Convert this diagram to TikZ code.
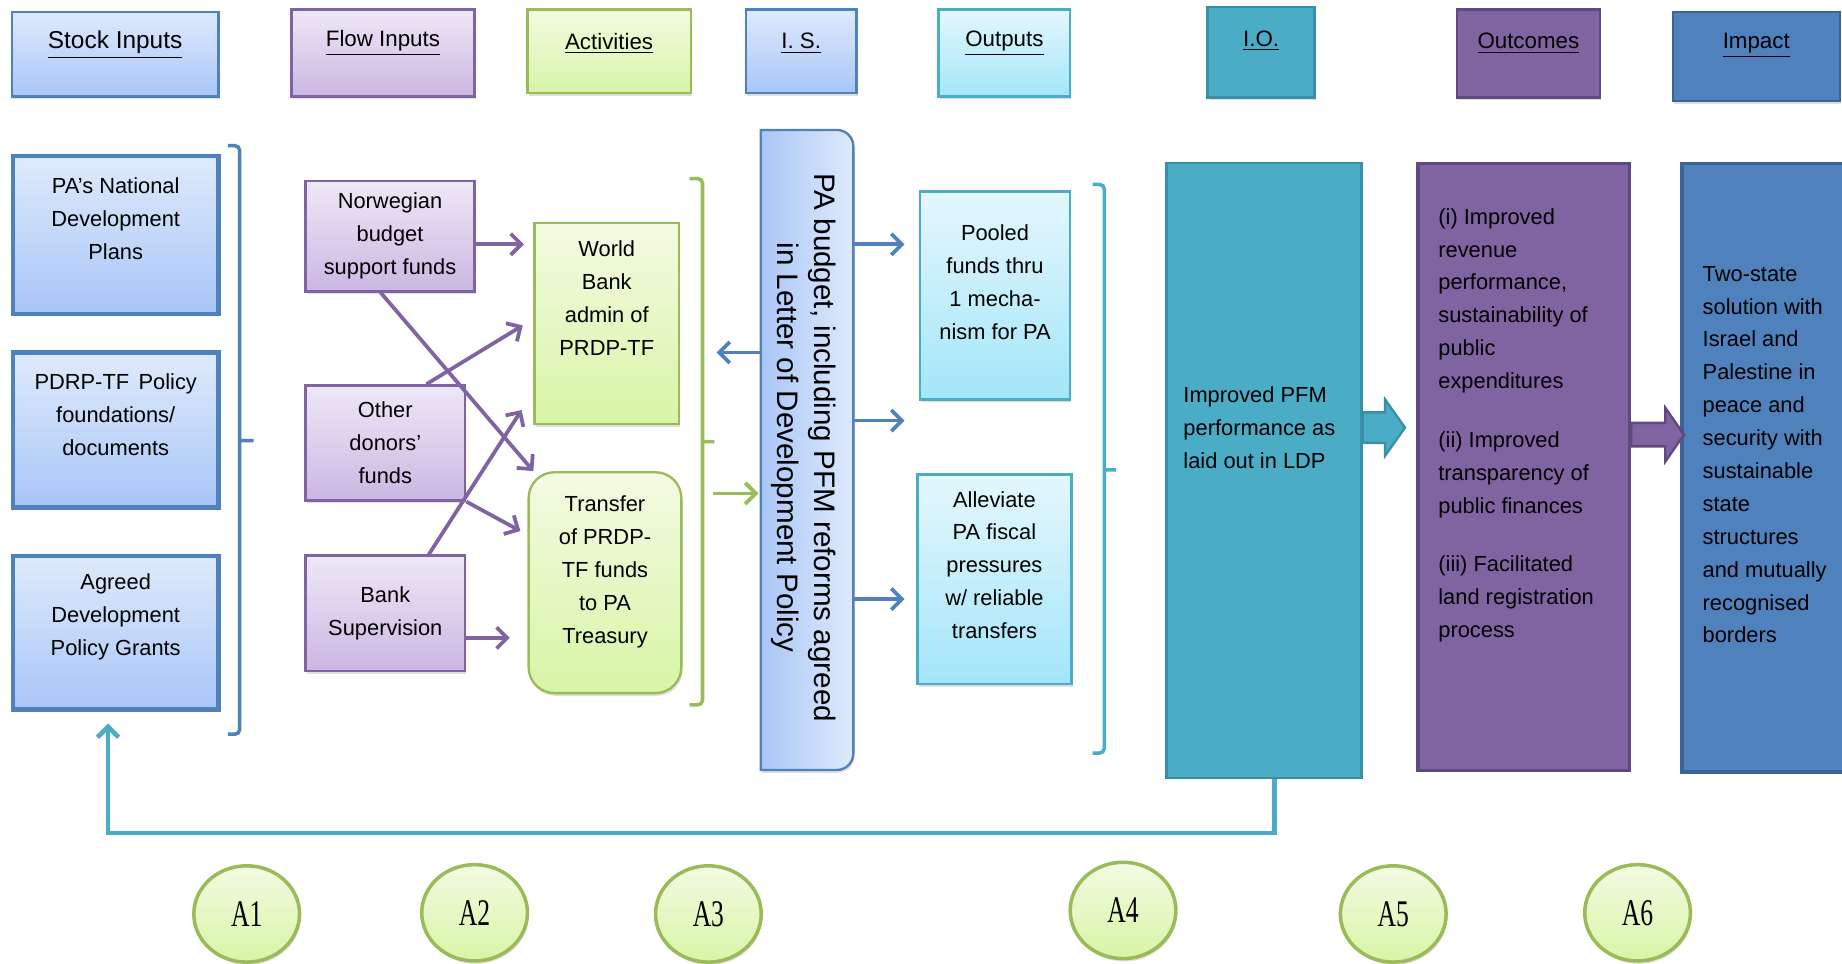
\documentclass[tikz,border=0pt]{standalone}
\usepackage{fontspec}
\setmainfont{Liberation Sans}
\newfontfamily\ellfont[FakeStretch=0.68]{Liberation Serif}
\usetikzlibrary{arrows.meta,calc,shadows,shapes.geometric}

\definecolor{accBlue}{HTML}{4F81BD}
\definecolor{accPurple}{HTML}{8064A2}
\definecolor{accGreen}{HTML}{9BBB59}
\definecolor{accTeal}{HTML}{4BACC6}
\definecolor{darkTeal}{HTML}{3A8FA8}
\definecolor{darkPurple}{HTML}{5E4A7C}
\definecolor{darkBlue}{HTML}{3A6398}
\definecolor{stockTop}{HTML}{DFEAFC}
\definecolor{stockBot}{HTML}{A8C6F7}
\definecolor{flowTop}{HTML}{EEE8F6}
\definecolor{flowBot}{HTML}{CBB7E2}
\definecolor{actTop}{HTML}{F3FBE2}
\definecolor{actBot}{HTML}{D8F5A6}
\definecolor{outTop}{HTML}{E4F7FD}
\definecolor{outBot}{HTML}{A3E6F9}

\tikzset{
  >={Straight Barb[length=4.5pt,width=9pt]},
  softshadow/.style={drop shadow={shadow xshift=0.5pt,shadow yshift=-1.2pt,opacity=0.25}},
  stockfill/.style={top color=stockTop, bottom color=stockBot},
  flowfill/.style={top color=flowTop, bottom color=flowBot},
  actfill/.style={top color=actTop, bottom color=actBot},
  outfill/.style={top color=outTop, bottom color=outBot},
  hdr/.style={draw, line width=1pt, inner sep=0pt, softshadow},
  hdrtxt/.style={font=\fontsize{9.5}{11}\selectfont, inner sep=0pt},
  bodytxt/.style={font=\fontsize{9.3}{14}\selectfont, align=center, inner sep=0pt},
  lefttxt/.style={font=\fontsize{9.3}{14}\selectfont, align=left, inner sep=0pt, anchor=west},
  stockbox/.style={stockfill, draw=accBlue, line width=1.8pt, inner sep=0pt, softshadow},
  flowbox/.style={flowfill, draw=accPurple, line width=1pt, bodytxt, softshadow},
  actbox/.style={actfill, draw=accGreen, line width=1pt, inner sep=0pt, softshadow},
  outbox/.style={outfill, draw=accTeal, line width=1pt, inner sep=0pt, softshadow},
  stage/.style={ellipse, draw=accGreen, line width=1.5pt, top color=actTop, bottom color=actBot,
    minimum width=45pt, minimum height=41pt, inner sep=0pt, softshadow,
    font=\ellfont\fontsize{16}{16}\selectfont},
  bracket/.style={line width=1.5pt, rounded corners=2pt},
  flowarr/.style={->, draw=accPurple, line width=1.6pt},
  isarr/.style={->, draw=accBlue, line width=1.6pt},
  actarr/.style={->, draw=accGreen, line width=1.6pt},
  fbline/.style={->, draw=accTeal, line width=2pt}
}

\begin{document}
\begin{tikzpicture}[x=0.5pt, y=-0.5pt]
  \useasboundingbox (0,0) rectangle (1568,820);

  % column heads
  \node[hdr, stockfill, draw=accBlue, minimum width=88pt, minimum height=36pt] (hStock) at (98,46) {};
  \node[hdr, flowfill, draw=accPurple, minimum width=78pt, minimum height=37pt] (hFlow) at (326,45) {};
  \node[hdr, actfill, draw=accGreen, minimum width=69.5pt, minimum height=35.5pt] (hAct) at (518.5,43.5) {};
  \node[hdr, stockfill, draw=accBlue, minimum width=47pt, minimum height=35.5pt] (hIS) at (682,43.5) {};
  \node[hdr, outfill, draw=accTeal, minimum width=56pt, minimum height=37pt] (hOut) at (855,45) {};
  \node[hdr, fill=accTeal, draw=darkTeal, minimum width=45.5pt, minimum height=38.5pt] (hIO) at (1073.5,44.5) {};
  \node[hdr, fill=accPurple, draw=darkPurple, minimum width=61pt, minimum height=37.5pt] (hOutc) at (1301,45.5) {};
  \node[hdr, fill=accBlue, draw=darkBlue, minimum width=71pt, minimum height=38pt] (hImp) at (1495,48) {};

  \node[hdrtxt, font=\fontsize{10.4}{12}\selectfont] (hStock-t) at ([yshift=-14.5pt]hStock.north) {\underline{Stock Inputs}};
  \foreach \n/\t in {hFlow/Flow Inputs, hAct/Activities, hIS/I. S., hOut/Outputs,
                     hIO/I.O., hOutc/Outcomes, hImp/Impact}
    \node[hdrtxt] (\n-t) at ([yshift=-15pt]\n.north) {\underline{\t}};

  % stock inputs
  \node[stockbox, minimum width=87.5pt, minimum height=67pt] (sNat) at (98.5,200) {};
  \node[bodytxt] (sNat-t) at ([yshift=7pt]sNat.center) {PA’s National\\Development\\Plans};
  \node[stockbox, minimum width=87.5pt, minimum height=66pt] (sPol) at (98.5,366) {};
  \node[bodytxt] (sPol-t) at ([yshift=6.5pt]sPol.center) {PDRP-TF\hspace{4pt}Policy\\foundations/\\documents};
  \node[stockbox, minimum width=87.5pt, minimum height=65.5pt] (sAgr) at (98.5,538.5) {};
  \node[bodytxt] (sAgr-t) at ([yshift=6.75pt]sAgr.center) {Agreed\\Development\\Policy Grants};

  \draw[bracket, draw=accBlue] (194,124) -- (204,124) -- (204,625) -- (194,625)
    (204,375) -- (216,375);

  % flow inputs
  \node[flowbox, minimum width=72pt, minimum height=47pt] (fNor) at (332,201) {Norwegian\\budget\\support funds};
  \node[flowbox, minimum width=68pt, minimum height=49pt] (fOth) at (328,377) {Other\\donors’\\funds};
  \node[flowbox, minimum width=68pt, minimum height=49pt] (fBank) at (328,522) {Bank\\Supervision};

  % activities
  \node[actbox, minimum width=61.5pt, minimum height=85.5pt] (aWB) at (516.5,275.5) {};
  \node[bodytxt] (aWB-t) at ([yshift=10.75pt]aWB.center) {World\\Bank\\admin of\\PRDP-TF};
  \node[actbox, rounded corners=11pt, minimum width=65pt, minimum height=94pt] (aTr) at (515,496) {};
  \node[bodytxt] (aTr-t) at ([yshift=4.5pt]aTr.center) {Transfer\\of PRDP-\\TF funds\\to PA\\Treasury};

  \draw[bracket, draw=accGreen] (587,152) -- (598,152) -- (598,600) -- (587,600)
    (598,376) -- (608,376);

  % flow connectors
  \coordinate (tNW) at (446,208);
  \coordinate (tOW) at (445,277);
  \coordinate (tBW) at (444,349);
  \coordinate (tNT) at (454,401);
  \coordinate (tOT) at (443,452);
  \coordinate (tBT) at (434,543);
  \draw[flowarr] (fNor.east |- tNW) -- (tNW);
  \draw[flowarr] ([xshift=-4pt]fNor.south) -- (tNT);
  \draw[flowarr] ([xshift=17.5pt]fOth.north) -- (tOW);
  \draw[flowarr] (fOth.south east) -- (tOT);
  \draw[flowarr] ([xshift=18.5pt]fBank.north) -- (tBW);
  \draw[flowarr] (fBank.east |- tBT) -- (tBT);

  % intermediate states
  \node[minimum width=39pt, minimum height=272pt, inner sep=0pt] (is) at (687,383) {};
  \draw[draw=accBlue, line width=1pt, left color=stockBot, right color=stockTop, softshadow]
    (is.south west) -- (is.north west) [rounded corners=7pt] -- (is.north east)
    -- (is.south east) [sharp corners] -- cycle;
  \node[bodytxt, font=\fontsize{12.6}{16}\selectfont, rotate=-90] (is-t) at ([xshift=-1.5pt,yshift=1pt]is.center)
    {PA budget, including PFM reforms agreed\\in Letter of Development Policy};

  \coordinate (isBack) at (610,300);
  \draw[isarr] (is.west |- isBack) -- (isBack);
  \coordinate (actIn) at (607,420);
  \draw[actarr, shorten >=1pt] (actIn) -- (is.west |- actIn);
  \foreach \yy/\nm in {208/isP, 358/isM, 510/isA} {
    \coordinate (\nm) at (770,\yy);
    \draw[isarr] (is.east |- \nm) -- (\nm);
  }

  % outputs
  \node[outbox, minimum width=64pt, minimum height=88.5pt] (oPool) at (847,251.5) {};
  \node[bodytxt] (oPool-t) at ([yshift=5.75pt]oPool.center) {Pooled\\funds thru\\1 mecha-\\nism for PA};
  \node[outbox, minimum width=65.5pt, minimum height=89pt] (oAll) at (846.5,493) {};
  \node[bodytxt] (oAll-t) at ([yshift=6pt]oAll.center) {Alleviate\\PA fiscal\\pressures\\w/ reliable\\transfers};

  \draw[bracket, draw=accTeal] (930,157) -- (940,157) -- (940,641) -- (930,641)
    (940,400) -- (950,400);

  % intermediate outcome, outcomes, impact
  \node[draw=darkTeal, fill=accTeal, line width=1pt, minimum width=83pt, minimum height=261.5pt] (io) at (1076,400.5) {};
  \node[lefttxt] (io-t) at (1007,364) {Improved PFM\\performance as\\laid out in LDP};

  \node[draw=darkPurple, fill=accPurple, line width=1.5pt, minimum width=90pt, minimum height=258.5pt] (outc) at (1297,397.5) {};
  \node[lefttxt] (outc-t) at (1224,362) {(i) Improved\\revenue\\performance,\\sustainability of\\public\\expenditures\\[11pt](ii) Improved\\transparency of\\public finances\\[11pt](iii) Facilitated\\land registration\\process};

  \node[draw=darkBlue, fill=accBlue, line width=1.5pt, minimum width=70pt, minimum height=259pt] (imp) at (1502,398) {};
  \node[lefttxt] (imp-t) at (1449,387) {Two-state\\solution with\\Israel and\\Palestine in\\peace and\\security with\\sustainable\\state\\structures\\and mutually\\recognised\\borders};

  \coordinate (ioA) at (io.east |- 0,364);
  \draw[draw=darkTeal, fill=accTeal, line width=1pt]
    ($(ioA)+(0,-13)$) -- ++(19,0) -- ++(0,-11) -- ++(17,24) -- ++(-17,24) -- ++(0,-11) -- ++(-19,0) -- cycle;
  \coordinate (ocA) at (outc.east |- 0,370);
  \draw[draw=darkPurple, fill=accPurple, line width=1pt]
    ($(ocA)+(0,-10)$) -- ++(29,0) -- ++(0,-13) -- ++(16,23) -- ++(-16,23) -- ++(0,-13) -- ++(-29,0) -- cycle;

  % feedback loop
  \draw[fbline] ([xshift=4.5pt]io.south) -- ++(0,46) -| ([xshift=-3.25pt,yshift=-5pt]sAgr.south);

  % stage markers
  \foreach \nm/\xx/\yy in {A1/210/778, A2/404/777, A3/603/778, A4/956/775, A5/1186/778, A6/1394/777}
    \node[stage] (\nm) at (\xx,\yy) {\nm};
\end{tikzpicture}
\end{document}
